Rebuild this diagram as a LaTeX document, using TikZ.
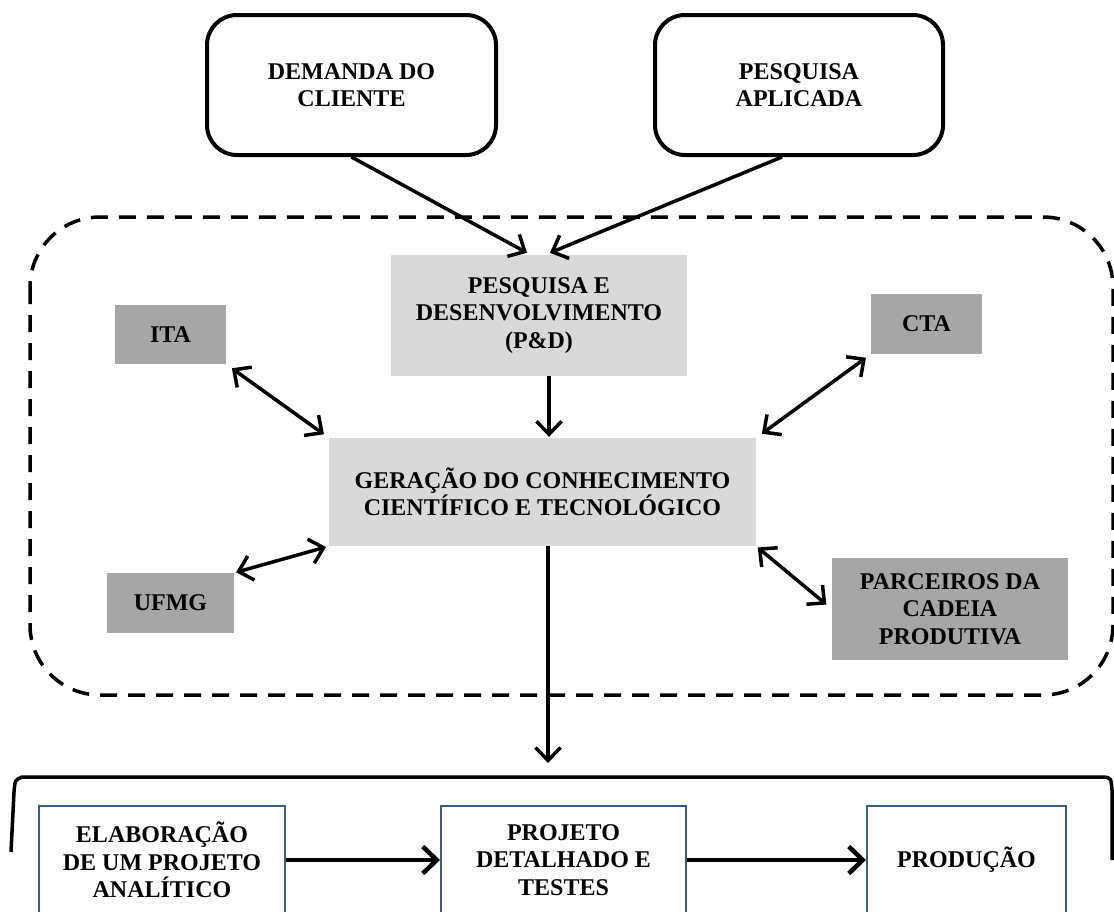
\documentclass[tikz,border=0pt]{standalone}
\usepackage{fontspec}
\setmainfont{Liberation Serif}
\usetikzlibrary{arrows.meta,calc}

\definecolor{lightbox}{HTML}{D9D9D9}
\definecolor{darkbox}{HTML}{A6A6A6}
\definecolor{stageblue}{HTML}{385D8A}

\tikzset{
  lbl/.style={font=\fontsize{24}{27.5}\selectfont\bfseries, align=center, inner sep=0pt},
  sourcebox/.style={lbl, draw, line width=4pt, rounded corners=30pt},
  corebox/.style={lbl, fill=lightbox},
  partnerbox/.style={lbl, fill=darkbox},
  stagebox/.style={lbl, draw=stageblue, line width=2pt, minimum height=108pt},
  arr/.style={line width=3.5pt, -{Straight Barb[length=13pt,width=25pt]}},
  darr/.style={line width=3.5pt, {Straight Barb[length=13pt,width=25pt]}-{Straight Barb[length=13pt,width=25pt]}},
  flow/.style={line width=4.5pt, -{Straight Barb[length=14pt,width=27pt]}},
}

\begin{document}
\begin{tikzpicture}[x=1pt, y=-1pt]
\useasboundingbox (0,0) rectangle (1114,911);
\clip (0,0) rectangle (1114,911);

% dashed region around the knowledge-generation core
\draw[line width=3.5pt, dash pattern=on 17pt off 11pt, rounded corners=70pt]
  (30,217) rectangle (1113,695);

% inputs
\node[sourcebox, minimum width=289pt, minimum height=140pt] (dem) at (351.5,85) {DEMANDA DO\\CLIENTE};
\node[sourcebox, minimum width=288pt, minimum height=140pt] (pa) at (799,85) {PESQUISA\\APLICADA};

% core
\node[corebox, minimum width=296pt, minimum height=121pt] (pd) at (539,315.5) {PESQUISA E\\DESENVOLVIMENTO\\(P\&D)};
\node[corebox, minimum width=427pt, minimum height=108pt] (ger) at (542.5,492) {GERAÇÃO DO CONHECIMENTO\\CIENTÍFICO E TECNOLÓGICO};

% partners
\node[partnerbox, minimum width=111pt, minimum height=59pt] (ita) at (170.5,334.5) {ITA};
\node[partnerbox, minimum width=111pt, minimum height=60pt] (cta) at (926.5,324) {CTA};
\node[partnerbox, minimum width=127pt, minimum height=60pt] (ufmg) at (170.5,603) {UFMG};
\node[partnerbox, minimum width=236pt, minimum height=102pt] (parc) at (950,609) {PARCEIROS DA\\CADEIA\\PRODUTIVA};

% stages
\node[stagebox, minimum width=246pt] (b1) at (162,860) {ELABORAÇÃO\\DE UM PROJETO\\ANALÍTICO};
\node[stagebox, minimum width=245pt] (b2) at (563.5,860) {PROJETO\\DETALHADO E\\TESTES};
\node[stagebox, minimum width=199pt] (b3) at (966.5,860) {PRODUÇÃO};

% bracket over the stages
\draw[line width=3.5pt]
  (11,852) -- (14,792) .. controls (15,780) .. (22,777) -- (1104,777)
  .. controls (1111,778) .. (1112,790) -- (1112,860);
\coordinate (brtop) at (548,777);

% connectors
\draw[arr] (dem.south) -- ([xshift=-12pt,yshift=2pt]pd.north);
\draw[arr] ([xshift=-17pt]pa.south) -- ([xshift=11pt,yshift=2pt]pd.north);
\draw[arr, shorten >=1pt] ([xshift=10pt]pd.south) -- ([xshift=6.5pt]ger.north);
\draw[darr, shorten <=7pt, shorten >=6pt] (ita.south east) -- (ger.north west);
\draw[darr, shorten <=6pt, shorten >=7pt] (cta.south west) -- (ger.north east);
\draw[darr, shorten <=2pt, shorten >=3pt] (ufmg.north east) -- (ger.south west);
\draw[darr, shorten <=2pt, shorten >=7pt] (ger.south east) -- (parc.west);
\draw[arr, shorten >=14pt] ([xshift=5.5pt]ger.south) -- (brtop);
\draw[flow] (b1.east) -- (b2.west);
\draw[flow] (b2.east) -- (b3.west);
\end{tikzpicture}
\end{document}
